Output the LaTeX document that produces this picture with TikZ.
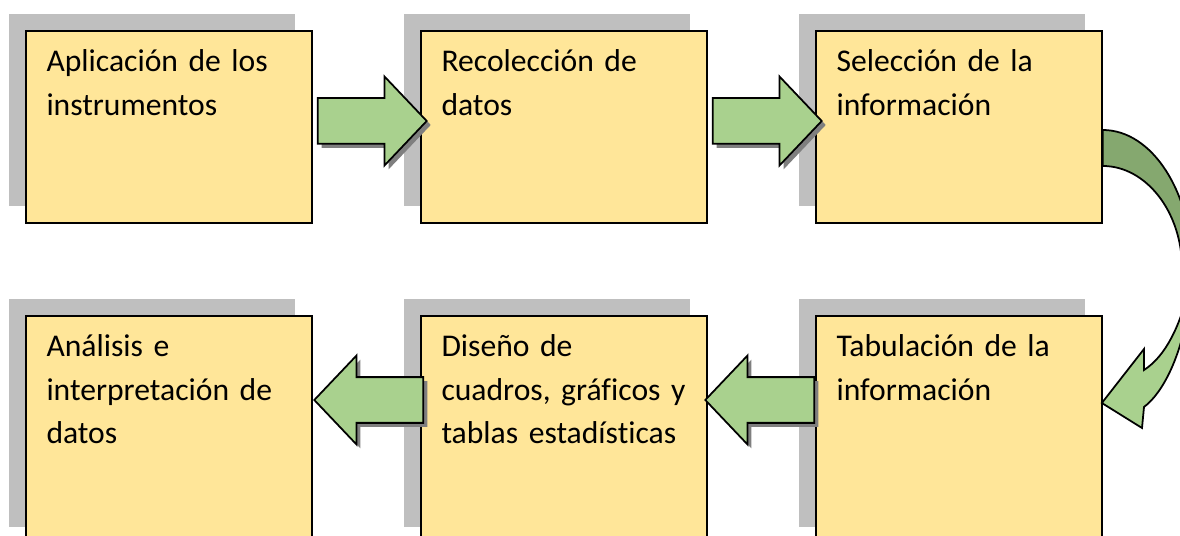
\documentclass[tikz,border=0pt]{standalone}
\usepackage{fontspec}
\setmainfont{Carlito}[Ligatures=NoCommon, WordSpace=0.8]
\usetikzlibrary{shapes.arrows,shadows}
\definecolor{boxfill}{HTML}{FFE699}
\definecolor{boxshade}{HTML}{BFBFBF}
\definecolor{arrowfill}{HTML}{A9D18E}
\definecolor{arrowdark}{HTML}{85A86F}
\definecolor{arrowshade}{HTML}{7F7F7F}
\tikzset{
  paso/.style={rectangle, draw, line width=1pt, fill=boxfill, minimum width=5.72cm,
    general shadow={fill=boxshade, shadow xshift=-0.34cm, shadow yshift=0.34cm}},
  texto/.style={anchor=base west, inner sep=0pt, text width=5.2cm, align=left,
    font=\fontsize{18}{25}\selectfont},
  flecha/.style={single arrow, draw, line width=1pt, fill=arrowfill, minimum height=2.18cm,
    inner xsep=0pt, inner ysep=0.44cm, single arrow head extend=0.43cm, single arrow tip angle=93,
    anchor=tail, general shadow={fill=arrowshade, shadow xshift=0.08cm, shadow yshift=-0.08cm}},
}
\begin{document}
\begin{tikzpicture}[x=0.02cm, y=-0.02cm]
\useasboundingbox (0,0) rectangle (1180,536);
\clip (0,0) rectangle (1180,536);

% fila de arriba
\node[paso, minimum height=3.84cm] (b1) at (169,127) {};
\node[paso, minimum height=3.84cm] (b2) at (564,127) {};
\node[paso, minimum height=3.84cm] (b3) at (959,127) {};
% fila de abajo
\node[paso, minimum height=4.56cm] (b4) at (959,430) {};
\node[paso, minimum height=4.56cm] (b5) at (564,430) {};
\node[paso, minimum height=4.56cm] (b6) at (169,430) {};

\node[flecha] (f1) at ([shift={(4,-6)}]b1.east) {};
\node[flecha] (f2) at ([shift={(4,-6)}]b2.east) {};
\node[flecha, shape border rotate=180] (f4) at ([shift={(0,-30)}]b4.west) {};
\node[flecha, shape border rotate=180] (f5) at ([shift={(4,-30)}]b5.west) {};

% flecha curva
\draw[line width=1pt, fill=arrowdark] ([shift={(0,3)}]b3.east) .. controls (1152,130) and (1192,192) .. (1192,268)
  -- (1182,268) .. controls (1182,212) and (1146,166) .. ([shift={(0,39)}]b3.east) -- cycle;
\draw[line width=1pt, fill=arrowfill] (1188,292) .. controls (1180,325) and (1166,356) .. (1144,370)
  -- (1144,349) -- ([shift={(-1,-27)}]b4.east) -- (1142,428) -- (1144,407)
  .. controls (1164,392) and (1180,355) .. (1186,320) -- cycle;

\node[texto] (t1) at ([shift={(21,41)}]b1.north west) {Aplicación de los\\instrumentos};
\node[texto] (t2) at ([shift={(21,41)}]b2.north west) {Recolección de\\datos};
\node[texto] (t3) at ([shift={(21,41)}]b3.north west) {Selección de la\\información};
\node[texto] (t4) at ([shift={(21,41)}]b4.north west) {Tabulación de la\\información};
\node[texto] (t5) at ([shift={(21,41)}]b5.north west) {Diseño de\\cuadros, gráficos y\\tablas estadísticas};
\node[texto] (t6) at ([shift={(21,41)}]b6.north west) {Análisis e\\interpretación de\\datos};
\end{tikzpicture}
\end{document}
